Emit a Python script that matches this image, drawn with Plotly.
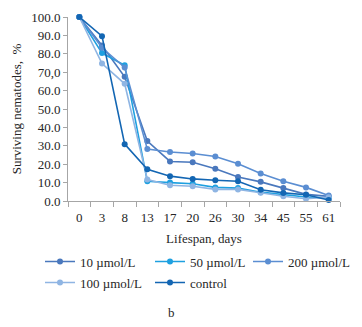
import plotly.graph_objects as go

days = ["0", "3", "8", "13", "17", "20", "26", "30", "34", "45", "55", "61"]
umol10 = [100, 84.5, 67.5, 32.6, 21.5, 21.1, 17.5, 13.0, 10.4, 7.1, 3.6, 2.5]
umol50 = [100, 80.4, 73.8, 10.7, 10.0, 9.4, 7.4, 7.0, 4.8, 3.6, 2.2, 1.6]
umol200 = [100, 83.3, 72.6, 28.2, 26.6, 25.8, 24.2, 20.2, 15.0, 10.7, 7.4, 3.0]
umol100 = [100, 74.7, 63.7, 11.7, 8.6, 8.0, 6.3, 6.3, 4.5, 2.6, 1.2, 2.0]
control = [100, 89.6, 30.9, 17.2, 13.5, 12.0, 11.3, 10.7, 6.1, 4.4, 3.4, 0.5]

y_ticks = [0, 10, 20, 30, 40, 50, 60, 70, 80, 90, 100]
y_tick_labels = ["0.0", "10.0", "20.0", "30.0", "40.0", "50.0", "60.0", "70,0", "80.0", "90.0", "100.0"]

series = [
    ("10 µmol/L", umol10, "#4a78bd"),
    ("50 µmol/L", umol50, "#1ea0e0"),
    ("200 µmol/L", umol200, "#5b8ed2"),
    ("100 µmol/L", umol100, "#8fb5e3"),
    ("control", control, "#1366b3"),
]

serif = "Liberation Serif, Times New Roman, serif"
FS = 13
L, R, T, B = 68, 22, 17, 126
W, H = 362, 327
pw, ph = W - L - R, H - T - B

# legend entry placement (pixel positions of each entry's left / top)
legend_pos = [(40, 246.5), (150, 246.5), (248, 246.5), (40, 267.5), (150, 267.5)]

fig = go.Figure()
layout_legends = {}
for i, ((name, vals, col), (lx, ly)) in enumerate(zip(series, legend_pos)):
    key = "legend" if i == 0 else f"legend{i+1}"
    fig.add_trace(go.Scatter(
        x=days, y=vals, name=name, mode="lines+markers",
        line=dict(color=col, width=1.6),
        marker=dict(color=col, size=6),
        cliponaxis=False, legend=key,
    ))
    layout_legends[key] = dict(
        x=(lx - L) / pw, xanchor="left", y=(H - B - ly) / ph, yanchor="top",
        font=dict(family=serif, size=FS, color="#262626"),
        itemwidth=30, bgcolor="rgba(0,0,0,0)",
    )

fig.update_layout(
    width=W, height=H,
    margin=dict(l=L, r=R, t=T, b=B, autoexpand=False),
    paper_bgcolor="white", plot_bgcolor="white",
    font=dict(family=serif, size=FS, color="#262626"),
    showlegend=True,
    xaxis=dict(
        type="category", range=[-0.5, 11.5],
        showgrid=False, showline=True, linecolor="#a6a6a6", linewidth=1,
        ticks="outside", tickson="boundaries", ticklen=5, tickcolor="#a6a6a6",
        ticklabelstandoff=4, tickangle=0,
        tickfont=dict(family=serif, size=FS, color="#262626"),
        title=dict(text="Lifespan, days", font=dict(family=serif, size=FS, color="#262626"), standoff=10),
    ),
    yaxis=dict(
        range=[0, 100], tickvals=y_ticks, ticktext=y_tick_labels,
        showgrid=False, showline=True, linecolor="#a6a6a6", linewidth=1,
        ticks="outside", ticklen=4, tickcolor="#a6a6a6",
        tickfont=dict(family=serif, size=FS, color="#262626"),
        title=dict(text="Surviving nematodes,  %", font=dict(family=serif, size=FS, color="#262626"), standoff=6),
        zeroline=False,
    ),
    **layout_legends,
)
fig.add_annotation(text="b", x=(171 - L) / pw, y=(H - B - 312) / ph,
                   xref="paper", yref="paper", xanchor="center", yanchor="middle",
                   showarrow=False, font=dict(family=serif, size=FS, color="#262626"))
fig.write_html("out.html")
